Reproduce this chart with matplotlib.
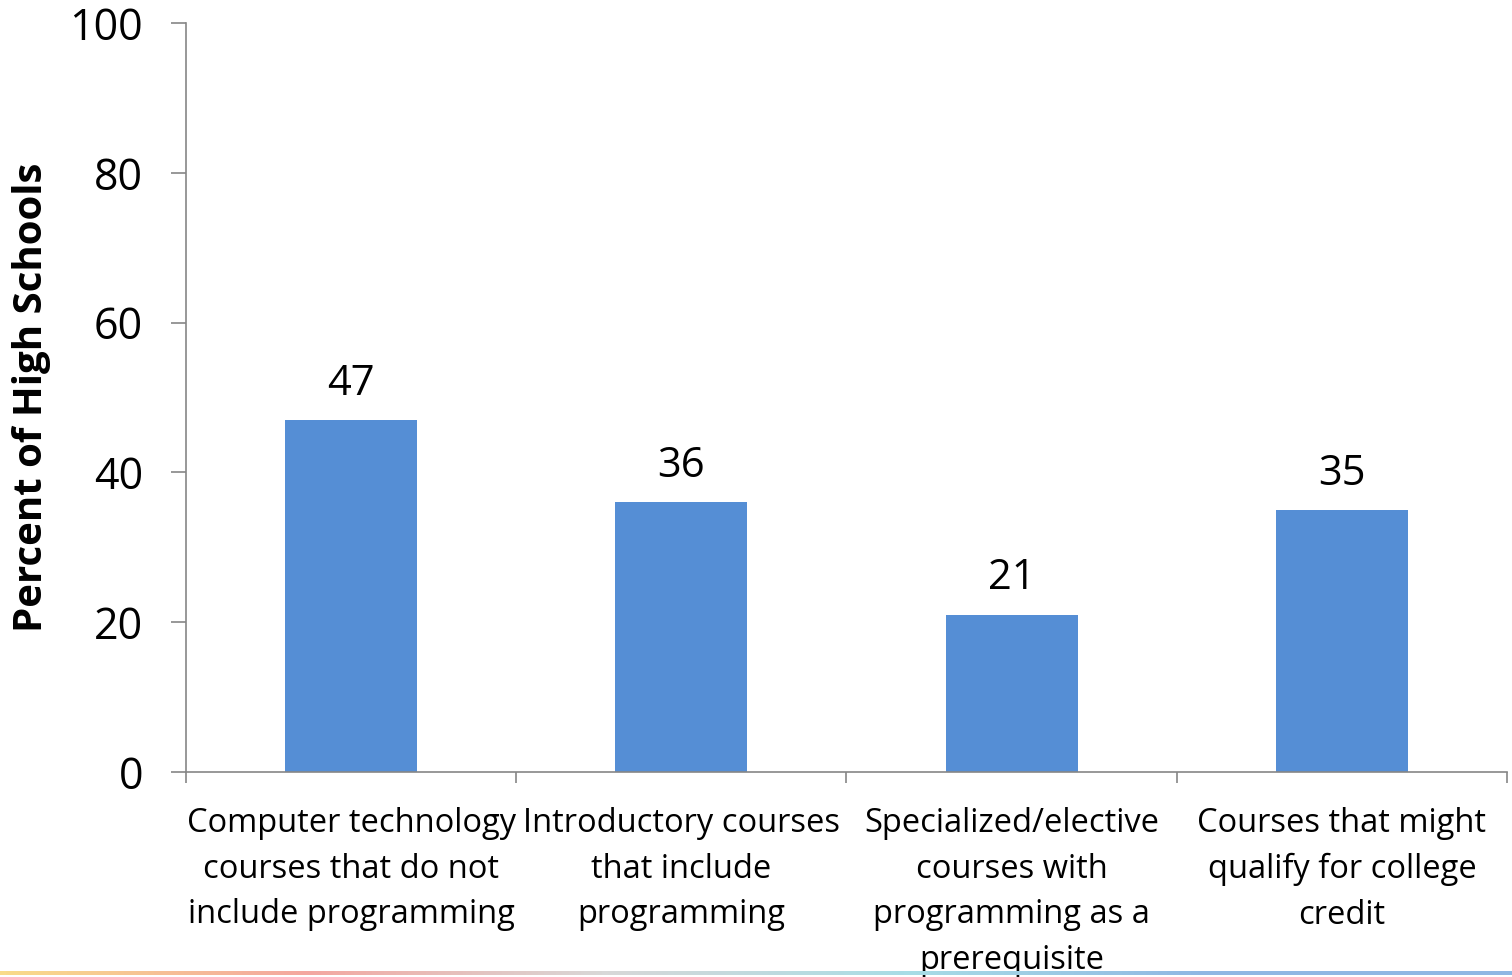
import matplotlib.pyplot as plt
import numpy as np
from matplotlib.colors import LinearSegmentedColormap

# data
categories = ["Computer technology\ncourses that do not\ninclude programming",
              "Introductory courses\nthat include\nprogramming",
              "Specialized/elective\ncourses with\nprogramming as a\nprerequisite",
              "Courses that might\nqualify for college\ncredit"]
percents = [47, 36, 21, 35]
yticks = [0, 20, 40, 60, 80, 100]

plt.rcParams['font.family'] = ['Open Sans', 'DejaVu Sans']
axis_grey = '#868686'
bar_blue = '#558ED5'

fig = plt.figure(figsize=(15.12, 9.77), dpi=100)
ax = fig.add_axes([0.123, 0.2098, 0.8737, 0.7667])

x = np.arange(len(categories))
ax.bar(x, percents, width=0.4, color=bar_blue, zorder=2)
for xi, v in zip(x, percents):
    ax.annotate(str(v), (xi, v), xytext=(0, 11), textcoords='offset points',
                ha='center', va='bottom', fontsize=30)

ax.set_xlim(-0.5, len(categories) - 0.5)
ax.set_ylim(0, 100)
ax.set_yticks(yticks)
ax.tick_params(axis='y', labelsize=31, length=11, width=1.2, color=axis_grey, pad=20)

# category boundaries carry the ticks, labels sit in the middle
ax.set_xticks(np.arange(-0.5, len(categories)), minor=False)
ax.set_xticklabels([])
ax.set_xticks(x, minor=True)
ax.set_xticklabels(categories, minor=True, fontsize=23.5, linespacing=1.5)
ax.tick_params(axis='x', which='major', length=8, width=1.2, color=axis_grey)
ax.tick_params(axis='x', which='minor', length=0, pad=25.5)

for side in ['top', 'right']:
    ax.spines[side].set_visible(False)
for side in ['left', 'bottom']:
    ax.spines[side].set_color(axis_grey)
    ax.spines[side].set_linewidth(1.2)

ax.set_ylabel('Percent of High Schools', fontsize=29, fontweight='bold', labelpad=13)

# thin coloured strip along the bottom edge
strip = fig.add_axes([0.0, 0.0025, 1.0, 0.004])
cmap = LinearSegmentedColormap.from_list('strip', ['#F9DC8A', '#F4A7A0', '#D8D8D8', '#A8DDE6', '#8FB7E3', '#8FB7E3'])
strip.imshow(np.linspace(0, 1, 500)[None, :], aspect='auto', cmap=cmap)
strip.axis('off')

fig.savefig('out.png', dpi=100)
